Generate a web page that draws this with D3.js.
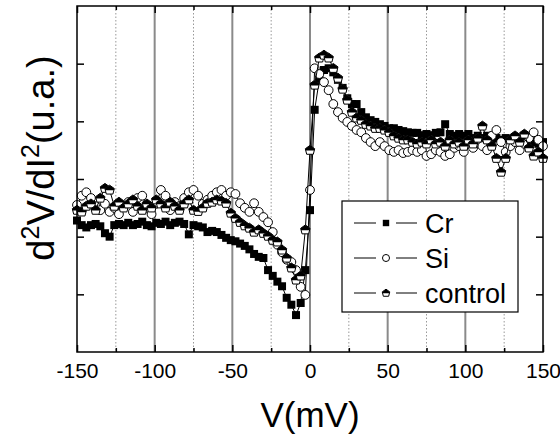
<!DOCTYPE html>
<html>
<head>
<meta charset="utf-8">
<script src="https://cdn.jsdelivr.net/npm/d3@7"></script>
<style>
  body { margin: 0; background: #fff; }
  svg { display: block; font-family: 'Liberation Sans', Arial, sans-serif; }
</style>
</head>
<body>
<div id="chart"></div>
<script>
// bias voltage (mV)
const voltage = [
  -150, -147, -144, -141, -138, -135, -132, -129, -126, -123,
  -120, -117, -114, -111, -108, -105, -102, -99, -96, -93,
  -90, -87, -84, -81, -78, -75, -72, -69, -66, -63,
  -60, -57, -54, -51, -48, -45, -42, -39, -36, -33,
  -30, -27, -24, -21, -18, -15, -12, -9, -6, -3,
  0, 3, 6, 9, 12, 15, 18, 21, 24, 27,
  30, 33, 36, 39, 42, 45, 48, 51, 54, 57,
  60, 63, 66, 69, 72, 75, 78, 81, 84, 87,
  90, 93, 96, 99, 102, 105, 108, 111, 114, 117,
  120, 123, 126, 129, 132, 135, 138, 141, 144, 147,
  150
]

const crValues = [
  -0.72, -0.8, -0.84, -0.8, -0.78, -0.82, -0.94, -1.0, -0.8, -0.78,
  -0.8, -0.76, -0.8, -0.78, -0.74, -0.8, -0.82, -0.76, -0.78, -0.74,
  -0.8, -0.76, -0.74, -0.78, -0.96, -0.8, -0.82, -0.84, -0.92, -0.9,
  -0.92, -0.97, -1.02, -1.06, -1.08, -1.12, -1.16, -1.22, -1.3, -1.35,
  -1.37, -1.58, -1.68, -1.78, -1.86, -2.06, -2.18, -2.36, -2.15, -1.58,
  -0.54, 1.2, 1.72, 1.89, 1.92, 1.85, 1.72, 1.58, 1.4, 1.3,
  1.3, 1.16, 1.07, 1.02, 0.99, 0.95, 0.92, 0.88, 0.88, 0.85,
  0.83, 0.81, 0.8, 0.8, 0.76, 0.78, 0.76, 0.8, 0.81, 0.95,
  0.78, 0.75, 0.78, 0.75, 0.78, 0.71, 0.75, 0.71, 0.75, 0.68,
  0.71, 0.68, 0.71, 0.64, 0.68, 0.64, 0.68, 0.61, 0.64, 0.61,
  0.64
]

const siValues = [
  -0.45, -0.29, -0.23, -0.33, -0.47, -0.54, -0.43, -0.57, -0.5, -0.61,
  -0.47, -0.4, -0.57, -0.33, -0.29, -0.5, -0.61, -0.43, -0.19, -0.29,
  -0.54, -0.4, -0.47, -0.33, -0.23, -0.19, -0.29, -0.43, -0.36, -0.29,
  -0.23, -0.19, -0.29, -0.23, -0.26, -0.42, -0.5, -0.57, -0.42, -0.57,
  -0.66, -0.75, -0.92, -1.14, -1.27, -1.4, -1.44, -1.58, -1.87, -2.01,
  -0.19, 1.92, 1.82, 1.68, 1.54, 1.3, 1.16, 1.06, 0.99, 0.92,
  0.85, 0.81, 0.71, 0.64, 0.57, 0.64, 0.57, 0.5, 0.47, 0.5,
  0.45, 0.47, 0.5, 0.47, 0.5, 0.4, 0.43, 0.5, 0.47, 0.4,
  0.43, 0.54, 0.57, 0.47, 0.61, 0.54, 0.68, 0.57, 0.5, 0.75,
  0.85, 0.64, 0.47, 0.57, 0.64, 0.5, 0.61, 0.71, 0.81, 0.68,
  0.57
]

const controlValues = [
  -0.54, -0.57, -0.47, -0.43, -0.54, -0.33, -0.16, -0.19, -0.47, -0.4,
  -0.5, -0.43, -0.36, -0.47, -0.54, -0.43, -0.5, -0.36, -0.43, -0.5,
  -0.4, -0.47, -0.54, -0.43, -0.36, -0.54, -0.56, -0.5, -0.42, -0.4,
  -0.36, -0.38, -0.42, -0.59, -0.68, -0.75, -0.81, -0.85, -0.92, -0.88,
  -0.94, -0.99, -1.06, -1.09, -1.23, -1.37, -1.54, -1.75, -1.68, -0.88,
  0.5, 1.63, 2.1, 2.15, 2.1, 1.92, 1.75, 1.56, 1.37, 1.16,
  1.06, 1.02, 0.95, 0.92, 0.88, 0.88, 0.85, 0.81, 0.75, 0.71,
  0.68, 0.68, 0.64, 0.61, 0.64, 0.61, 0.68, 0.61, 0.64, 0.57,
  0.68, 0.61, 0.64, 0.57, 0.68, 0.61, 0.71, 0.92, 0.68, 0.57,
  0.36, 0.12, 0.36, 0.68, 0.75, 0.64, 0.78, 0.54, 0.4, 0.47,
  0.36
]

const seriesNames = ['Cr', 'Si', 'control']
const xMajorTicks = [-150, -100, -50, 0, 50, 100, 150]
const xMinorTicks = [-125, -75, -25, 25, 75, 125]
const xGridMajor = [-100, -50, 0, 50, 100]
const yTicks = [-2, -1, 0, 1, 2]

const margin = { top: 6, left: 77, right: 17, bottom: 84 }
const width = 560 - margin.left - margin.right
const height = 436 - margin.top - margin.bottom

const svg = d3
  .select('#chart')
  .append('svg')
  .attr('width', width + margin.left + margin.right)
  .attr('height', height + margin.top + margin.bottom)
  .append('g')
  .attr('transform', 'translate(' + margin.left + ',' + margin.top + ')')

const xPositionScale = d3.scaleLinear().domain([-150, 150]).range([0, width])
const yPositionScale = d3.scaleLinear().domain([-3, 3]).range([height, 0])

const series = [
  { key: 'Cr', values: crValues },
  { key: 'Si', values: siValues },
  { key: 'control', values: controlValues }
].map(s => ({
  key: s.key,
  points: s.values.map((v, i) => ({ volt: voltage[i], val: v }))
}))

// grid lines
svg
  .selectAll('.grid-minor')
  .data(xMinorTicks)
  .enter()
  .append('line')
  .attr('class', 'grid-minor')
  .attr('x1', d => xPositionScale(d))
  .attr('x2', d => xPositionScale(d))
  .attr('y1', 0)
  .attr('y2', height)
  .attr('stroke', '#999')
  .attr('stroke-width', 1)
  .attr('stroke-dasharray', '1.5,2')

svg
  .selectAll('.grid-major')
  .data(xGridMajor)
  .enter()
  .append('line')
  .attr('class', 'grid-major')
  .attr('x1', d => xPositionScale(d))
  .attr('x2', d => xPositionScale(d))
  .attr('y1', 0)
  .attr('y2', height)
  .attr('stroke', '#8a8a8a')
  .attr('stroke-width', 2)

// markers
function drawMarker(g, key, size) {
  const s = size || 1
  if (key === 'Cr') {
    g.append('rect')
      .attr('x', -4 * s)
      .attr('y', -4 * s)
      .attr('width', 8 * s)
      .attr('height', 8 * s)
      .attr('fill', '#000')
  } else if (key === 'Si') {
    g.append('circle')
      .attr('r', 4.4 * s)
      .attr('fill', '#fff')
      .attr('stroke', '#000')
      .attr('stroke-width', 1)
  } else {
    g.append('path')
      .attr('d', `M0,${-4.8 * s}L${4.7 * s},${-1.4 * s}L${3.3 * s},${4.1 * s}L${-3.3 * s},${4.1 * s}L${-4.7 * s},${-1.4 * s}Z`)
      .attr('fill', '#fff')
      .attr('stroke', '#000')
      .attr('stroke-width', 1)
    g.append('path')
      .attr('d', `M0,${-4.8 * s}L${4.7 * s},${-1.4 * s}L${4.3 * s},${0.4 * s}L${-4.3 * s},${0.4 * s}L${-4.7 * s},${-1.4 * s}Z`)
      .attr('fill', '#000')
  }
}

const line = d3
  .line()
  .x(d => xPositionScale(d.volt))
  .y(d => yPositionScale(d.val))

series.forEach(s => {
  const g = svg.append('g').attr('class', 'series')
  g.append('path')
    .attr('d', line(s.points))
    .attr('fill', 'none')
    .attr('stroke', '#000')
    .attr('stroke-width', 1)
  g.selectAll('.marker')
    .data(s.points)
    .enter()
    .append('g')
    .attr('class', 'marker')
    .attr('transform', d => 'translate(' + xPositionScale(d.volt) + ',' + yPositionScale(d.val) + ')')
    .each(function() {
      drawMarker(d3.select(this), s.key)
    })
})

// axes
function styleAxis(g) {
  g.select('.domain').remove()
  g.selectAll('.tick line').attr('stroke', '#000').attr('stroke-width', 1.5)
}

const xAxis = d3
  .axisBottom(xPositionScale)
  .tickValues(xMajorTicks)
  .tickFormat(d => String(d))
  .tickSizeInner(-7)
  .tickSizeOuter(0)
  .tickPadding(11)
svg
  .append('g')
  .attr('class', 'axis x-axis')
  .attr('transform', 'translate(0,' + height + ')')
  .call(xAxis)
  .call(styleAxis)
  .selectAll('text')
  .attr('font-size', 21)
  .attr('font-family', "'Liberation Sans', Arial, sans-serif")
  .attr('fill', '#000')

svg
  .append('g')
  .attr('transform', 'translate(0,' + height + ')')
  .call(d3.axisBottom(xPositionScale).tickValues(xMinorTicks).tickSize(-4).tickFormat(''))
  .call(styleAxis)

svg
  .append('g')
  .call(d3.axisTop(xPositionScale).tickValues(xMajorTicks).tickSize(-7).tickFormat(''))
  .call(styleAxis)
svg
  .append('g')
  .call(d3.axisTop(xPositionScale).tickValues(xMinorTicks).tickSize(-4).tickFormat(''))
  .call(styleAxis)

svg
  .append('g')
  .call(d3.axisLeft(yPositionScale).tickValues(yTicks).tickSize(-7).tickFormat(''))
  .call(styleAxis)
svg
  .append('g')
  .attr('transform', 'translate(' + width + ',0)')
  .call(d3.axisRight(yPositionScale).tickValues(yTicks).tickSize(-7).tickFormat(''))
  .call(styleAxis)

svg
  .append('rect')
  .attr('x', 0)
  .attr('y', 0)
  .attr('width', width)
  .attr('height', height)
  .attr('fill', 'none')
  .attr('stroke', '#000')
  .attr('stroke-width', 1.5)

// axis titles
svg
  .append('text')
  .attr('x', width / 2)
  .attr('y', height + 75)
  .attr('text-anchor', 'middle')
  .attr('font-size', 35)
  .text('V(mV)')

const yTitle = svg
  .append('text')
  .attr('transform', 'rotate(-90)')
  .attr('x', -152)
  .attr('y', -23)
  .attr('text-anchor', 'middle')
  .attr('font-size', 38)
yTitle.append('tspan').text('d')
yTitle.append('tspan').attr('font-size', 25).attr('dy', -15).text('2')
yTitle.append('tspan').attr('dy', 15).text('V/dI')
yTitle.append('tspan').attr('font-size', 25).attr('dy', -15).text('2')
yTitle.append('tspan').attr('dy', 15).text('(u.a.)')

// legend
const legend = svg.append('g').attr('transform', 'translate(265,195)')
legend
  .append('rect')
  .attr('width', 176)
  .attr('height', 111)
  .attr('fill', '#fff')
  .attr('stroke', '#000')
  .attr('stroke-width', 1.2)

const legendRows = legend
  .selectAll('.legend-row')
  .data(seriesNames)
  .enter()
  .append('g')
  .attr('class', 'legend-row')
  .attr('transform', (d, i) => 'translate(0,' + (22 + i * 35) + ')')

legendRows.append('line').attr('x1', 12).attr('x2', 34).attr('stroke', '#000')
legendRows.append('line').attr('x1', 54).attr('x2', 75).attr('stroke', '#000')
legendRows.each(function(d) {
  const g = d3.select(this).append('g').attr('transform', 'translate(44,0)')
  drawMarker(g, d, 0.8)
})
legendRows
  .append('text')
  .attr('x', 83)
  .attr('y', 10)
  .attr('font-size', 27)
  .text(d => d)
</script>
</body>
</html>
